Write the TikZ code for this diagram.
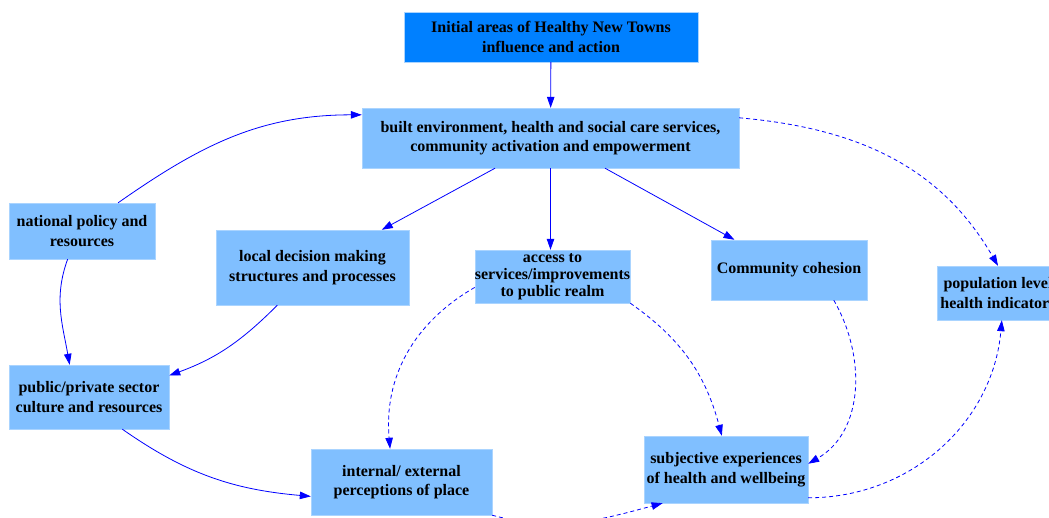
\documentclass[tikz,border=0pt]{standalone}
\usepackage{fontspec}
\setmainfont{Liberation Serif}
\usetikzlibrary{arrows.meta}
\definecolor{boxblue}{RGB}{128,191,255}
\definecolor{topblue}{RGB}{0,128,255}
\definecolor{rimblue}{RGB}{170,212,255}
\begin{document}
\begin{tikzpicture}[x=1pt,y=1pt]
	\tikzstyle{every node}+=[inner sep=0pt]
	\tikzstyle{box}=[draw=rimblue,fill=boxblue,align=center,font=\fontsize{16}{19.5}\selectfont\bfseries]
	\tikzstyle{link}=[blue,line width=0.8pt,-{Triangle[length=11pt,width=7.5pt]}]
	\tikzstyle{dlink}=[link,dash pattern=on 4pt off 3pt]
	\useasboundingbox (0,0) rectangle (1049,517);
	\node [box,fill=topblue,minimum width=294,minimum height=50] (init) at (551,480) {Initial areas of Healthy New Towns\\influence and action};
	\node [box,minimum width=377,minimum height=60] (built) at (550.5,379) {built environment, health and social care services,\\community activation and empowerment};
	\node [box,minimum width=146,minimum height=56] (natl) at (82,286) {national policy and\\resources};
	\node [box,minimum width=193,minimum height=75] (local) at (312.5,249.5) {local decision making\\structures and processes};
	\node [box,minimum width=155,minimum height=53,font=\fontsize{16}{17}\selectfont\bfseries] (access) at (552.5,240.5) {access to\\services/improvements\\to public realm};
	\node [box,minimum width=156,minimum height=60] (comm) at (789,247) {Community cohesion};
	\node [box,minimum width=122,minimum height=54] (pop) at (998,224) {population level\\health indicators};
	\node [box,minimum width=160,minimum height=64] (pub) at (89,120) {public/private sector\\culture and resources};
	\node [box,minimum width=181,minimum height=66] (place) at (401.5,35) {internal/ external\\perceptions of place};
	\node [box,minimum width=164,minimum height=67] (subj) at (726,47.5) {subjective experiences\\of health and wellbeing};

	\draw [link] (init) -- (built);
	\draw [link] (built) -- (local);
	\draw [link] (built.south) -- (built.south |- access.north);
	\draw [link] (built) -- (comm);
	\draw [dlink] ([yshift=-10pt]built.north east) to[out=-5,in=120] (pop.north);
	\draw [link] (natl.38) to[out=35,in=180] (built.173);
	\draw [link] (natl.243) to[out=-110,in=100] (pub.121);
	\draw [link] (local.227) to[out=-135,in=20] (pub.15);
	\draw [link] (pub.316) to[out=-35,in=175] (place.189);
	\draw [dlink] (access.188) to[out=210,in=95] (place.109);
	\draw [dlink] (access.south east) to[out=-35,in=105] (subj.97);
	\draw [dlink] (comm.326) to[out=-60,in=30] (subj.4);
	\draw [dlink] (subj.341) to[out=0,in=-95] (pop.278);
	\draw [dlink] (place.south east) to[out=-15,in=195] (subj.208);

	\end{tikzpicture}
\end{document}
